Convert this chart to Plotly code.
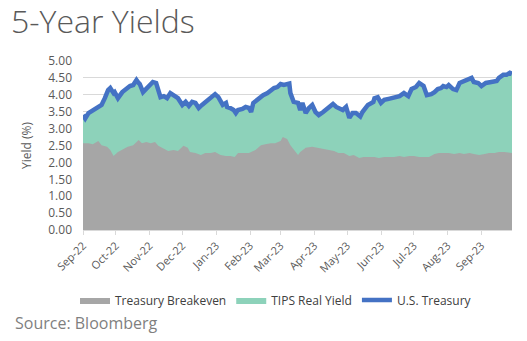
import plotly.graph_objects as go

# ---- Data ----
treasury_dates = [
    "2022-09-01","2022-09-03","2022-09-06","2022-09-10","2022-09-14","2022-09-18","2022-09-21","2022-09-24",
    "2022-09-26","2022-09-29","2022-09-30","2022-10-03","2022-10-07","2022-10-10","2022-10-12","2022-10-14",
    "2022-10-17","2022-10-20","2022-10-22","2022-10-23","2022-10-26","2022-10-30","2022-11-02","2022-11-04",
    "2022-11-07","2022-11-09","2022-11-11","2022-11-14","2022-11-17","2022-11-20","2022-11-23","2022-11-27",
    "2022-12-01","2022-12-04","2022-12-07","2022-12-10","2022-12-13","2022-12-16","2022-12-19","2022-12-24",
    "2022-12-29","2022-12-31","2023-01-03","2023-01-07","2023-01-10","2023-01-11","2023-01-14","2023-01-17",
    "2023-01-19","2023-01-21","2023-01-25","2023-01-28","2023-01-31","2023-02-02","2023-02-04","2023-02-08",
    "2023-02-11","2023-02-13","2023-02-17","2023-02-20","2023-02-23","2023-02-26","2023-03-01","2023-03-04",
    "2023-03-08","2023-03-09","2023-03-10","2023-03-13","2023-03-17","2023-03-19","2023-03-21","2023-03-24",
    "2023-03-27","2023-03-30","2023-04-02","2023-04-05","2023-04-09","2023-04-11","2023-04-14","2023-04-18",
    "2023-04-21","2023-04-23","2023-04-27","2023-04-30","2023-05-03","2023-05-06","2023-05-09","2023-05-13",
    "2023-05-15","2023-05-20","2023-05-25","2023-05-26","2023-05-29","2023-06-01","2023-06-04","2023-06-08",
    "2023-06-13","2023-06-18","2023-06-22","2023-06-26","2023-06-29","2023-07-03","2023-07-06","2023-07-10",
    "2023-07-13","2023-07-17","2023-07-20","2023-07-23","2023-07-26","2023-07-28","2023-07-31","2023-08-02",
    "2023-08-06","2023-08-09","2023-08-12","2023-08-16","2023-08-21","2023-08-23","2023-08-25","2023-08-29",
    "2023-09-01","2023-09-05","2023-09-10","2023-09-15","2023-09-17","2023-09-21","2023-09-24","2023-09-27",
    "2023-09-29",
]
treasury_yield = [
    3.40,3.30,3.46,3.55,3.64,3.70,3.90,4.14,
    4.20,4.05,4.08,3.90,4.08,4.17,4.20,4.26,
    4.29,4.44,4.35,4.32,4.08,4.20,4.32,4.38,
    4.35,4.14,3.93,3.96,3.90,4.05,3.99,3.90,
    3.70,3.79,3.67,3.79,3.76,3.61,3.70,3.85,
    3.99,4.02,3.93,3.70,3.76,3.64,3.61,3.55,
    3.46,3.55,3.58,3.64,3.61,3.49,3.76,3.88,
    3.93,3.99,4.05,4.14,4.20,4.23,4.32,4.29,
    4.35,4.33,4.05,3.79,3.76,3.55,3.76,3.46,
    3.61,3.70,3.49,3.40,3.49,3.55,3.61,3.73,
    3.64,3.61,3.55,3.64,3.32,3.46,3.46,3.36,
    3.49,3.70,3.79,3.90,3.93,3.76,3.85,3.88,
    3.93,3.96,4.05,3.96,4.17,4.23,4.35,4.26,
    3.99,4.02,4.08,4.17,4.20,4.26,4.23,4.29,
    4.17,4.14,4.35,4.41,4.47,4.50,4.38,4.35,
    4.26,4.35,4.38,4.41,4.50,4.59,4.59,4.65,
    4.62,
]

breakeven_dates = [
    "2022-09-01","2022-09-06","2022-09-10","2022-09-15","2022-09-18","2022-09-23","2022-09-26","2022-09-29",
    "2022-10-03","2022-10-08","2022-10-12","2022-10-17","2022-10-22","2022-10-25","2022-10-29","2022-11-02",
    "2022-11-06","2022-11-09","2022-11-14","2022-11-18","2022-11-23","2022-11-27","2022-12-02","2022-12-06",
    "2022-12-08","2022-12-13","2022-12-18","2022-12-22","2022-12-27","2022-12-31","2023-01-05","2023-01-10",
    "2023-01-14","2023-01-18","2023-01-21","2023-01-26","2023-01-31","2023-02-06","2023-02-11","2023-02-15",
    "2023-02-20","2023-02-24","2023-03-01","2023-03-03","2023-03-07","2023-03-10","2023-03-13","2023-03-17",
    "2023-03-19","2023-03-24","2023-03-30","2023-04-04","2023-04-10","2023-04-14","2023-04-19","2023-04-23",
    "2023-04-28","2023-05-03","2023-05-07","2023-05-12","2023-05-16","2023-05-21","2023-05-26","2023-05-30",
    "2023-06-04","2023-06-08","2023-06-13","2023-06-18","2023-06-22","2023-06-27","2023-07-01","2023-07-06",
    "2023-07-10","2023-07-15","2023-07-20","2023-07-24","2023-07-29","2023-08-02","2023-08-07","2023-08-12",
    "2023-08-16","2023-08-21","2023-08-25","2023-08-30","2023-09-04","2023-09-08","2023-09-13","2023-09-17",
    "2023-09-22","2023-09-27","2023-09-29",
]
breakeven_yield = [
    2.57,2.57,2.54,2.63,2.51,2.46,2.37,2.19,
    2.31,2.40,2.46,2.51,2.66,2.57,2.60,2.57,
    2.60,2.49,2.40,2.34,2.37,2.34,2.49,2.43,
    2.31,2.28,2.22,2.28,2.28,2.31,2.22,2.19,
    2.19,2.16,2.28,2.28,2.28,2.37,2.51,2.54,
    2.57,2.57,2.63,2.75,2.69,2.51,2.40,2.22,
    2.31,2.43,2.46,2.43,2.40,2.37,2.34,2.28,
    2.28,2.19,2.22,2.13,2.16,2.16,2.16,2.13,
    2.16,2.16,2.16,2.19,2.16,2.19,2.19,2.16,
    2.16,2.16,2.25,2.28,2.28,2.28,2.25,2.28,
    2.25,2.28,2.25,2.22,2.25,2.28,2.28,2.31,
    2.31,2.28,2.28,
]

month_ticks = ["2022-09-01","2022-10-01","2022-11-01","2022-12-01","2023-01-01","2023-02-01","2023-03-01",
               "2023-04-01","2023-05-01","2023-06-01","2023-07-01","2023-08-01","2023-09-01"]
month_labels = ["Sep-22","Oct-22","Nov-22","Dec-22","Jan-23","Feb-23","Mar-23",
                "Apr-23","May-23","Jun-23","Jul-23","Aug-23","Sep-23"]
y_ticks = [0, 0.5, 1.0, 1.5, 2.0, 2.5, 3.0, 3.5, 4.0, 4.5, 5.0]

GRAY = "#A6A6A6"
TEAL = "#8DD2BA"
BLUE = "#4472C4"
TXT = "#595959"

fig = go.Figure()
# TIPS real yield area: the band between breakeven and the treasury yield
fig.add_trace(go.Scatter(
    x=treasury_dates, y=treasury_yield, name="TIPS Real Yield", mode="lines",
    line=dict(width=0, color=TEAL), fill="tozeroy", fillcolor=TEAL, legendrank=2,
    hoverinfo="skip"))
fig.add_trace(go.Scatter(
    x=breakeven_dates, y=breakeven_yield, name="Treasury Breakeven", mode="lines",
    line=dict(width=0, color=GRAY), fill="tozeroy", fillcolor=GRAY, legendrank=1))
fig.add_trace(go.Scatter(
    x=treasury_dates, y=treasury_yield, name="U.S. Treasury", mode="lines",
    line=dict(width=4.5, color=BLUE), legendrank=3))

L, R, T, B = 83, 15, 61, 111
W, H = 527, 341
ph = H - T - B
pw = W - L - R

fig.update_layout(
    width=W, height=H,
    margin=dict(l=L, r=R, t=T, b=B),
    paper_bgcolor="white", plot_bgcolor="white",
    font=dict(family="Open Sans, Liberation Sans, sans-serif", color=TXT, size=12),
    showlegend=True,
    legend=dict(orientation="h", x=(276 - L) / pw, xanchor="center",
                y=(230 - 300) / ph, yanchor="middle",
                font=dict(size=12, color="#404040"), itemwidth=30,
                traceorder="normal", bgcolor="rgba(0,0,0,0)"),
    xaxis=dict(type="date", range=["2022-09-01", "2023-09-29"],
               tickvals=month_ticks, ticktext=month_labels, tickangle=-45,
               tickfont=dict(size=11, color=TXT),
               showgrid=False, showline=True, linecolor="#D9D9D9", linewidth=1,
               ticks="outside", ticklen=4, tickcolor="#D9D9D9", zeroline=False),
    yaxis=dict(range=[0, 5.0], tickvals=y_ticks, tickformat=".2f",
               tickfont=dict(size=12, color=TXT),
               showgrid=True, gridcolor="#D9D9D9", gridwidth=1, zeroline=False,
               showline=False, ticks="", ticklabelstandoff=10,
               title=dict(text="Yield (%)", font=dict(size=12, color=TXT), standoff=14)),
)

# Title as annotation for precise placement
fig.add_annotation(text="5-Year Yields", xref="paper", yref="paper",
                   x=(9 - L) / pw, xanchor="left", y=(230 - 21) / ph, yanchor="middle",
                   showarrow=False,
                   font=dict(size=32, color=TXT, family="Open Sans, sans-serif", weight=300))

fig.add_annotation(text="Source: Bloomberg", xref="paper", yref="paper",
                   x=(13 - L) / pw, xanchor="left", y=(230 - 323) / ph, yanchor="middle",
                   showarrow=False, font=dict(size=16, color="#7F7F7F"))

fig.write_html("out.html")
